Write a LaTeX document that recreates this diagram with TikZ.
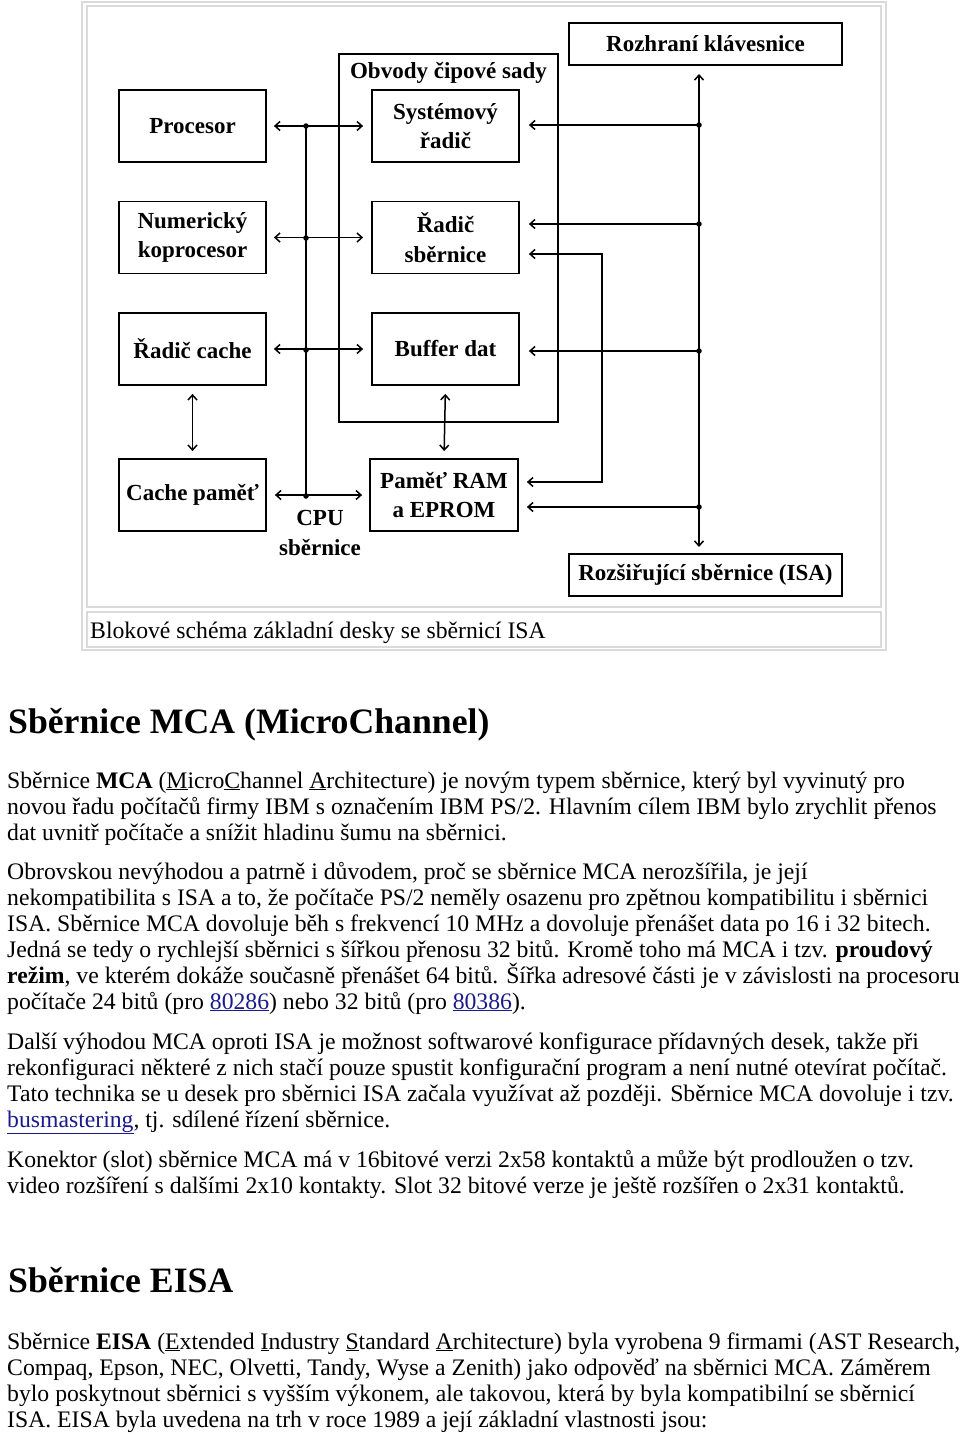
\documentclass[tikz,border=0pt]{standalone}
\usepackage{fontspec}
\setmainfont{Liberation Serif}
\usetikzlibrary{arrows.meta,calc}
\definecolor{linkblue}{RGB}{26,26,140}
\definecolor{framegray}{RGB}{218,218,218}
\newcommand\bodyfont{\fontsize{23.7}{26}\selectfont}
\newcommand\headfont{\fontsize{35.7}{40}\selectfont\bfseries}
\newcommand\diafont{\fontsize{23}{29.5}\selectfont\bfseries}
\newcommand\lnk[1]{\textcolor{linkblue}{\underline{#1}}}
\begin{document}
\begin{tikzpicture}[x=1pt,y=-1pt,
  frame/.style={draw=framegray,line width=1.2},
  blk/.style={draw,line width=1.8,font=\diafont,align=center,inner sep=0,
    minimum width=147,minimum height=72},
  wide/.style={blk,minimum width=273,minimum height=42},
  lbl/.style={font=\diafont,align=center,inner sep=0},
  bus/.style={line width=1.5},
  two/.style={{Straight Barb[length=5,width=9,line width=1.5]}-{Straight Barb[length=5,width=9,line width=1.5]},line width=1.5},
  one/.style={-{Straight Barb[length=5,width=9,line width=1.5]},line width=1.5},
  dot/.style={circle,fill,inner sep=0,minimum size=5.5},
  txt/.style={anchor=base west,inner sep=0,font=\bodyfont},
  head/.style={anchor=base west,inner sep=0,font=\headfont}]
\useasboundingbox (0,0) rectangle (960,1435);
% frames
\draw[frame] (82,2) rectangle (886,650);
\draw[frame] (87,6) rectangle (881,607);
\draw[frame] (87,612) rectangle (881,647);
% chip set box
\node[draw,line width=1.8,minimum width=219,minimum height=368,inner sep=0] (chip) at (448.5,238) {};
\node[lbl] (chiptitle) at (448.5,73) {Obvody čipové sady};
% blocks
\node[blk] (proc) at (192.5,126) {Procesor};
\node[blk] (num) at (192.5,237.5) {Numerický\\koprocesor};
\node[blk] (sys) at (445.5,126) {Systémový\\řadič};
\node[blk] (rbus) at (445.5,237.5) {Řadič\\sběrnice};
\node[blk] (rcache) at (192.5,349) {Řadič cache};
\node[blk] (buf) at (445.5,349) {Buffer dat};
\node[blk] (cmem) at (192.5,495) {Cache paměť};
\node[blk,minimum width=148] (ram) at (444,495) {Paměť RAM\\a EPROM};
\node[wide] (kbd) at (705.5,44) {Rozhraní klávesnice};
\node[wide] (isa) at (705.5,575) {Rozšiřující sběrnice (ISA)};
\node[lbl] (cpulbl) at (320,533) {CPU\\sběrnice};
% CPU bus
\coordinate (c1) at (306,126);
\coordinate (c2) at (306,238);
\coordinate (c3) at (306,350);
\coordinate (c4) at (306,496);
\draw[bus] (c1) -- (c4);
\draw[two,shorten <=7,shorten >=8] (proc.east) -- (sys.west);
\draw[two,shorten <=7,shorten >=8] (num.east) -- (rbus.west);
\draw[two,shorten <=7,shorten >=8] (rcache.east) -- (buf.west);
\draw[two,shorten <=8,shorten >=7] (cmem.east) -- (ram.west);
\foreach \c in {c1,c2,c3,c4} \node[dot] at (\c) {};
% vertical links
\draw[two,shorten <=8,shorten >=7] (rcache.south) -- (cmem.north);
\draw[two,shorten <=8,shorten >=7] (buf.south) -- (ram.north);
% ISA bus
\coordinate (i0) at (699,74);
\coordinate (i1) at (699,125);
\coordinate (i2) at (699,224);
\coordinate (i3) at (699,351);
\coordinate (i4) at (699,507);
\coordinate (i5) at (699,547);
\draw[two] (i0) -- (i5);
\draw[one,shorten >=9] (i1) -- (i1 -| sys.east);
\draw[one,shorten >=9] (i2) -- (i2 -| rbus.east);
\draw[one,shorten >=9] (i3) -- (i3 -| buf.east);
\draw[one,shorten >=8] (i4) -- (i4 -| ram.east);
\foreach \c in {i1,i2,i3,i4} \node[dot] at (\c) {};
\coordinate (p1) at (602,254);
\coordinate (p2) at (602,482);
\draw[two,shorten <=9,shorten >=8] (p1 -| rbus.east) -- (p1) -- (p2) -- (p2 -| ram.east);
% caption
\node[anchor=base west,inner sep=0,font=\bodyfont] (cap) at (90,638) {Blokové schéma základní desky se sběrnicí ISA};
% headings and text
\node[head] (h1) at (8,733) {Sběrnice MCA (MicroChannel)};
\node[txt] (a1) at (7,788) {Sběrnice \textbf{MCA} (\underline{M}icro\underline{C}hannel \underline{A}rchitecture) je novým typem sběrnice, který byl vyvinutý pro};
\node[txt] (a2) at (7,814) {novou řadu počítačů firmy IBM s označením IBM PS/2. Hlavním cílem IBM bylo zrychlit přenos};
\node[txt] (a3) at (7,840) {dat uvnitř počítače a snížit hladinu šumu na sběrnici.};
\node[txt] (b1) at (7,879) {Obrovskou nevýhodou a patrně i důvodem, proč se sběrnice MCA nerozšířila, je její};
\node[txt] (b2) at (7,905) {nekompatibilita s ISA a to, že počítače PS/2 neměly osazenu pro zpětnou kompatibilitu i sběrnici};
\node[txt] (b3) at (7,931) {ISA. Sběrnice MCA dovoluje běh s frekvencí 10 MHz a dovoluje přenášet data po 16 i 32 bitech.};
\node[txt] (b4) at (7,957) {Jedná se tedy o rychlejší sběrnici s šířkou přenosu 32 bitů. Kromě toho má MCA i tzv. \textbf{proudový}};
\node[txt] (b5) at (7,983) {\textbf{režim}, ve kterém dokáže současně přenášet 64 bitů. Šířka adresové části je v závislosti na procesoru};
\node[txt] (b6) at (7,1009) {počítače 24 bitů (pro \lnk{80286}) nebo 32 bitů (pro \lnk{80386}).};
\node[txt] (c1t) at (7,1049) {Další výhodou MCA oproti ISA je možnost softwarové konfigurace přídavných desek, takže při};
\node[txt] (c2t) at (7,1075) {rekonfiguraci některé z nich stačí pouze spustit konfigurační program a není nutné otevírat počítač.};
\node[txt] (c3t) at (7,1101) {Tato technika se u desek pro sběrnici ISA začala využívat až později. Sběrnice MCA dovoluje i tzv.};
\node[txt] (c4t) at (7,1127) {\lnk{busmastering}, tj. sdílené řízení sběrnice.};
\node[txt] (d1) at (7,1167) {Konektor (slot) sběrnice MCA má v 16bitové verzi 2x58 kontaktů a může být prodloužen o tzv.};
\node[txt] (d2) at (7,1193) {video rozšíření s dalšími 2x10 kontakty. Slot 32 bitové verze je ještě rozšířen o 2x31 kontaktů.};
\node[head] (h2) at (8,1292) {Sběrnice EISA};
\node[txt] (e1) at (7,1349) {Sběrnice \textbf{EISA} (\underline{E}xtended \underline{I}ndustry \underline{S}tandard \underline{A}rchitecture) byla vyrobena 9 firmami (AST Research,};
\node[txt] (e2) at (7,1375) {Compaq, Epson, NEC, Olvetti, Tandy, Wyse a Zenith) jako odpověď na sběrnici MCA. Záměrem};
\node[txt] (e3) at (7,1401) {bylo poskytnout sběrnici s vyšším výkonem, ale takovou, která by byla kompatibilní se sběrnicí};
\node[txt] (e4) at (7,1427) {ISA. EISA byla uvedena na trh v roce 1989 a její základní vlastnosti jsou:};
\end{tikzpicture}
\end{document}
